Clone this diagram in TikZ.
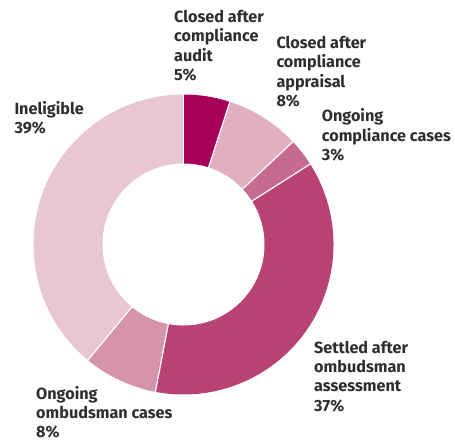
\documentclass[tikz,border=0pt]{standalone}
\usepackage{fontspec}
\setmainfont{Fira Sans}
\definecolor{cAudit}{HTML}{A8005A}
\definecolor{cAppr}{HTML}{E1AFC0}
\definecolor{cOngC}{HTML}{C66A8E}
\definecolor{cSettle}{HTML}{B84274}
\definecolor{cOngO}{HTML}{D693AC}
\definecolor{cInel}{HTML}{E9C6D3}
\definecolor{txt}{HTML}{2E2E2E}
\newcommand\mysector[3]{\fill[#1] (ctr) -- ++(#2:150) arc[start angle=#2,end angle=#3,radius=150] -- cycle;}
\begin{document}
\begin{tikzpicture}[x=1pt,y=1pt,
  lbl/.style={anchor=north west,align=left,inner sep=0pt,text=txt,font=\fontsize{16.2}{19.3}\selectfont\bfseries},
  sep/.style={draw=white,line width=1.2pt}]
\useasboundingbox (0,0) rectangle (455,-439);
\coordinate (ctr) at (183.5,-244.5);
\mysector{cAudit}{90}{72}
\mysector{cAppr}{72}{43.2}
\mysector{cOngC}{43.2}{32.4}
\mysector{cSettle}{32.4}{-100.8}
\mysector{cOngO}{-100.8}{-129.6}
\mysector{cInel}{-129.6}{-270}
\foreach \a in {90,72,43.2,32.4,-100.8,-129.6}{\draw[sep] (ctr) -- ++(\a:151);}
\fill[white] (ctr) circle (81);
\node[lbl] (audit) at (174,-10) {Closed after\\compliance\\audit\\5\%};
\node[lbl] (appr) at (276.3,-36) {Closed after\\compliance\\appraisal\\8\%};
\node[lbl] (ongc) at (321.7,-108.5) {Ongoing\\compliance cases\\3\%};
\node[lbl] (inel) at (14.3,-101) {Ineligible\\39\%};
\node[lbl] (settle) at (314,-340.8) {Settled after\\ombudsman\\assessment\\37\%};
\node[lbl] (ongo) at (36,-385.8) {Ongoing\\ombudsman cases\\8\%};
\end{tikzpicture}
\end{document}
